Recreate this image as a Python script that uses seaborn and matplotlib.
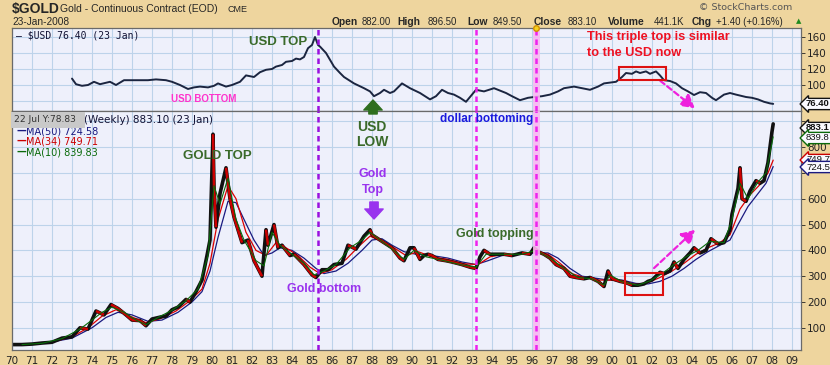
import matplotlib
matplotlib.use("Agg")
import matplotlib.pyplot as plt
import seaborn as sns
import pandas as pd

# ---------------- data ----------------
gold_t = [1970.0, 1970.5, 1971.0, 1971.5, 1972.0, 1972.5, 1973.0, 1973.4, 1973.8, 1974.2,
          1974.6, 1974.95, 1975.3, 1975.7, 1976.0, 1976.4, 1976.7, 1977.0, 1977.5, 1977.7,
          1978.0, 1978.3, 1978.7, 1978.9, 1979.2, 1979.5, 1979.75, 1979.9, 1980.05, 1980.1,
          1980.2, 1980.4, 1980.7, 1980.9, 1981.1, 1981.3, 1981.5, 1981.8, 1982.1, 1982.5,
          1982.7, 1982.8, 1983.1, 1983.3, 1983.5, 1983.9, 1984.1, 1984.6, 1985.0, 1985.2,
          1985.5, 1985.8, 1986.1, 1986.5, 1986.8, 1987.2, 1987.6, 1987.9, 1988.0, 1988.4,
          1988.8, 1989.0, 1989.4, 1989.6, 1989.9, 1990.1, 1990.4, 1990.6, 1990.8, 1991.0,
          1991.3, 1991.7, 1992.0, 1992.5, 1992.9, 1993.2, 1993.4, 1993.6, 1993.9, 1994.2,
          1994.6, 1995.0, 1995.5, 1995.9, 1996.1, 1996.3, 1996.6, 1996.9, 1997.2, 1997.6,
          1997.9, 1998.2, 1998.6, 1998.9, 1999.3, 1999.6, 1999.8, 2000.0, 2000.4, 2000.7,
          2001.0, 2001.3, 2001.6, 2001.8, 2002.0, 2002.4, 2002.6, 2002.9, 2003.1, 2003.3,
          2003.6, 2003.9, 2004.1, 2004.4, 2004.7, 2004.95, 2005.3, 2005.6, 2005.9, 2006.0,
          2006.3, 2006.4, 2006.5, 2006.7, 2006.9, 2007.2, 2007.4, 2007.6, 2007.8, 2007.9,
          2008.0, 2008.06]
gold_v = [35, 35, 37, 41, 44, 60, 65, 100, 95, 165,
          150, 190, 175, 150, 130, 128, 108, 134, 143, 145,
          170, 180, 210, 200, 240, 285, 380, 440, 850, 650,
          490, 620, 720, 600, 530, 480, 430, 440, 360, 300,
          480, 420, 500, 410, 420, 380, 385, 345, 305, 295,
          325, 325, 345, 350, 420, 405, 455, 480, 460, 440,
          420, 410, 370, 360, 410, 410, 365, 380, 385, 380,
          365, 360, 355, 345, 335, 330, 375, 400, 385, 385,
          385, 380, 390, 385, 410, 395, 385, 370, 345, 330,
          300, 295, 290, 295, 280, 260, 320, 290, 280, 275,
          265, 265, 270, 280, 285, 315, 310, 320, 355, 330,
          365, 390, 410, 390, 400, 445, 425, 430, 480, 540,
          640, 720, 600, 590, 630, 670, 660, 670, 740, 800,
          860, 890]

ma50_t = [1970.5, 1971, 1972, 1973, 1974, 1974.7, 1975.3, 1976, 1976.8, 1977.5, 1978.3, 1979,
          1979.5, 1979.9, 1980.3, 1980.8, 1981.2, 1981.6, 1982.1, 1982.6, 1983.0, 1983.4,
          1984.0, 1984.6, 1985.2, 1985.6, 1986.2, 1986.8, 1987.5, 1988.0, 1988.5, 1989.0,
          1989.6, 1990.2, 1991.0, 1991.8, 1992.5, 1993.2, 1993.8, 1994.5, 1995.3, 1996.2,
          1996.8, 1997.3, 1997.9, 1998.5, 1999.2, 1999.8, 2000.5, 2001.2, 2001.8, 2002.4,
          2003.0, 2003.6, 2004.2, 2004.8, 2005.4, 2005.9, 2006.3, 2006.8, 2007.3, 2007.7, 2008.06]
ma50_v = [35, 38, 45, 60, 100, 140, 160, 150, 125, 130, 160, 200,
          240, 320, 450, 590, 585, 520, 440, 380, 390, 410,
          400, 370, 330, 310, 320, 350, 400, 440, 445, 420,
          395, 385, 380, 370, 355, 345, 360, 380, 385, 390,
          390, 370, 330, 300, 292, 285, 285, 272, 270, 280,
          300, 330, 365, 395, 420, 440, 500, 570, 620, 660, 724.58]

ma34_t = [1970.5, 1971, 1972, 1973, 1973.8, 1974.5, 1975.2, 1975.9, 1976.7, 1977.4, 1978.2, 1978.9,
          1979.5, 1979.9, 1980.3, 1980.8, 1981.2, 1981.7, 1982.2, 1982.7, 1983.2, 1983.7,
          1984.3, 1984.9, 1985.4, 1986.0, 1986.7, 1987.4, 1987.9, 1988.5, 1989.1, 1989.7,
          1990.3, 1991.0, 1991.8, 1992.6, 1993.3, 1993.9, 1994.6, 1995.5, 1996.2, 1996.8,
          1997.4, 1998.0, 1998.6, 1999.3, 1999.9, 2000.5, 2001.2, 2001.8, 2002.4, 2003.0,
          2003.6, 2004.2, 2004.8, 2005.4, 2005.9, 2006.4, 2006.9, 2007.4, 2007.8, 2008.06]
ma34_v = [35, 37, 45, 65, 100, 145, 170, 145, 120, 135, 165, 205,
          250, 350, 520, 650, 600, 470, 400, 380, 430, 410,
          380, 335, 310, 325, 365, 420, 455, 435, 410, 380,
          395, 375, 365, 348, 345, 375, 385, 385, 395, 385,
          350, 310, 295, 285, 285, 280, 268, 275, 295, 320,
          350, 385, 410, 430, 460, 560, 615, 655, 700, 749.71]

ma10_t = [1970.5, 1971.5, 1972.5, 1973.4, 1974.0, 1974.5, 1975.0, 1975.6, 1976.2, 1976.7, 1977.3,
          1978.0, 1978.7, 1979.3, 1979.8, 1980.1, 1980.4, 1980.8, 1981.2, 1981.6, 1982.2, 1982.6,
          1983.0, 1983.4, 1984.0, 1984.6, 1985.1, 1985.6, 1986.2, 1986.9, 1987.5, 1987.9, 1988.4,
          1989.0, 1989.6, 1990.1, 1990.7, 1991.5, 1992.4, 1993.2, 1993.7, 1994.5, 1995.5, 1996.2,
          1996.9, 1997.6, 1998.3, 1999.0, 1999.6, 1999.9, 2000.5, 2001.3, 2001.9, 2002.5, 2003.1,
          2003.8, 2004.3, 2004.9, 2005.6, 2006.0, 2006.4, 2006.8, 2007.3, 2007.7, 2008.06]
ma10_v = [35, 40, 58, 95, 130, 160, 180, 160, 130, 112, 140,
          168, 205, 250, 380, 650, 580, 680, 520, 440, 360, 340,
          470, 420, 385, 350, 305, 320, 345, 410, 440, 470, 440,
          405, 365, 400, 375, 362, 345, 335, 385, 385, 385, 400,
          370, 330, 295, 290, 265, 305, 278, 265, 282, 310, 345,
          380, 400, 435, 430, 520, 660, 600, 665, 700, 839.83]

usd_t = [1973.0, 1973.2, 1973.5, 1973.8, 1974.1, 1974.4, 1974.9, 1975.2, 1975.6, 1976.0,
         1976.4, 1976.8, 1977.2, 1977.7, 1978.0, 1978.4, 1978.8, 1979.1, 1979.4, 1979.8,
         1980.1, 1980.3, 1980.7, 1981.0, 1981.4, 1981.7, 1982.1, 1982.4, 1982.7, 1983.0,
         1983.2, 1983.5, 1983.7, 1984.0, 1984.2, 1984.4, 1984.6, 1984.8, 1985.0, 1985.15,
         1985.3, 1985.4, 1985.7, 1986.1, 1986.4, 1986.6, 1987.1, 1987.6, 1987.9, 1988.1,
         1988.4, 1988.6, 1988.9, 1989.1, 1989.5, 1989.9, 1990.4, 1990.9, 1991.2, 1991.5,
         1991.8, 1992.1, 1992.4, 1992.7, 1993.0, 1993.2, 1993.6, 1994.1, 1994.7, 1995.0,
         1995.4, 1995.8, 1996.1, 1996.5, 1996.9, 1997.3, 1997.6, 1998.1, 1998.5, 1998.9,
         1999.3, 1999.6, 2000.2, 2000.5, 2000.7, 2001.0, 2001.2, 2001.4, 2001.7, 2001.9,
         2002.2, 2002.4, 2002.6, 2002.9, 2003.2, 2003.5, 2003.8, 2004.1, 2004.4, 2004.7,
         2005.0, 2005.2, 2005.6, 2005.9, 2006.2, 2006.7, 2007.0, 2007.3, 2007.6, 2007.9, 2008.06]
usd_v = [108, 101, 99, 100, 104, 101, 104, 100, 106, 106,
         106, 106, 107, 106, 104, 100, 95, 97, 98, 97,
         99, 102, 98, 100, 104, 112, 110, 116, 119, 120,
         123, 125, 129, 130, 133, 132, 135, 146, 150, 160,
         150, 148, 140, 123, 115, 110, 102, 96, 92, 86,
         90, 94, 90, 92, 102, 96, 90, 82, 86, 94,
         90, 88, 84, 79, 88, 94, 92, 96, 90, 86,
         81, 84, 85, 86, 88, 92, 96, 98, 96, 94,
         98, 102, 104, 110, 115, 114, 117, 115, 117, 114,
         117, 112, 106, 105, 102, 96, 92, 87.5, 91, 90,
         84, 81, 88, 90, 88, 85, 84, 82, 79, 77, 76.4]

years = list(range(1970, 2010))
year_labels = [f"{y % 100:02d}" for y in years]
usd_ticks = [100, 120, 140, 160]
gold_ticks = [100, 200, 300, 400, 500, 600, 700, 800, 900]
gold_tick_labels = ["100", "200", "300", "400", "500", "600", "", "800", ""]
event_years = [1985.3, 1993.2, 1996.2]

# ---------------- styling ----------------
W, H = 830, 365
BG = "#EED59E"
PANEL = "#EEF0FB"
GRID = "#BDD3EA"
sns.set_style("white")
plt.rcParams["font.family"] = ["DejaVu Sans"]

fig = plt.figure(figsize=(W / 100, H / 100), dpi=100, facecolor=BG)


def fx(x):
    return x / W


def fy(y):
    return 1 - y / H


L, R = 12, 801
ax_u = fig.add_axes([fx(L), fy(111), (R - L) / W, (111 - 28) / H])
ax_g = fig.add_axes([fx(L), fy(350), (R - L) / W, (350 - 111) / H], sharex=ax_u)

for ax in (ax_u, ax_g):
    ax.set_facecolor(PANEL)
    ax.set_xticks(years)
    ax.grid(True, color=GRID, lw=0.8)
    ax.set_axisbelow(True)
    for s in ax.spines.values():
        s.set_color("#6a6a6a")
        s.set_linewidth(0.9)
    ax.yaxis.tick_right()
    ax.tick_params(axis="y", length=3, width=0.6, pad=1.5, labelsize=7.5,
                   colors="#222222", direction="out")

ax_u.set_xlim(1970.0, 2009.45)
ax_u.set_ylim(67.5, 171.25)
ax_g.set_ylim(14, 940)

ax_u.set_yticks([80] + usd_ticks)
ax_u.set_yticklabels([""] + [str(v) for v in usd_ticks])
ax_u.tick_params(axis="x", length=0, labelbottom=False)
ax_g.set_yticks(gold_ticks)
ax_g.set_yticklabels(gold_tick_labels)
ax_g.set_xticklabels(year_labels)
ax_g.tick_params(axis="x", length=3, width=0.6, pad=1.5, labelsize=7.5,
                 colors="#222222")

# ---------------- series ----------------
df_usd = pd.DataFrame({"t": usd_t, "v": usd_v})
sns.lineplot(data=df_usd, x="t", y="v", ax=ax_u, color="#1B2540", lw=1.4, sort=False)

df_gold = pd.DataFrame({"t": gold_t, "v": gold_v})
sns.lineplot(data=pd.DataFrame({"t": ma50_t, "v": ma50_v}), x="t", y="v", ax=ax_g,
             color="#1A1A80", lw=0.9, sort=False)
sns.lineplot(data=pd.DataFrame({"t": ma34_t, "v": ma34_v}), x="t", y="v", ax=ax_g,
             color="#DD0000", lw=0.9, sort=False)
sns.lineplot(data=df_gold, x="t", y="v", ax=ax_g, color="#111111", lw=2.6, sort=False)
for i in range(len(gold_t) - 1):
    if gold_v[i + 1] < gold_v[i]:
        ax_g.plot(gold_t[i:i + 2], gold_v[i:i + 2], color="#CC0000", lw=1.8,
                  solid_capstyle="butt")
sns.lineplot(data=pd.DataFrame({"t": ma10_t, "v": ma10_v}), x="t", y="v", ax=ax_g,
             color="#0A6A0A", lw=0.8, sort=False)
for ax in (ax_u, ax_g):
    ax.set_xlabel("")
    ax.set_ylabel("")

# ---------------- event lines ----------------
ev_col = ["#9A10E0", "#EE22EE", "#EE22EE"]
for ax in (ax_u, ax_g):
    ax.axvline(event_years[2], color="#F7B8F2", lw=5, alpha=0.9, zorder=3)
    for yr, c in zip(event_years, ev_col):
        ax.axvline(yr, color=c, lw=1.8, ls=(0, (2.2, 1.6)), zorder=4)
ax_u.plot([event_years[2]], [171.25], marker="o", ms=4, color="#F5D020",
          mec="#D09000", clip_on=False, zorder=6)

# ---------------- header ----------------
LS = ["Liberation Sans"]
fig.text(fx(12), fy(9), "$GOLD", fontsize=10, fontweight="bold", va="center", family=LS)
fig.text(fx(60), fy(9), "Gold - Continuous Contract (EOD)", fontsize=7.5, va="center",
         family=LS)
fig.text(fx(227), fy(9), "CME", fontsize=6.5, va="center", family=LS)
fig.text(fx(12), fy(22), "23-Jan-2008", fontsize=7.3, va="center", family=LS)
fig.text(fx(792), fy(7), "© StockCharts.com", fontsize=6.8, va="center", ha="right",
         color="#555555")
hdr = [(332, "Open", True), (362, "882.00", False), (397, "High", True),
       (428, "896.50", False), (467, "Low", True), (493, "849.50", False),
       (534, "Close", True), (568, "883.10", False), (608, "Volume", True),
       (654, "441.1K", False), (692, "Chg", True), (716, "+1.40 (+0.16%)", False)]
for x, s, b in hdr:
    fig.text(fx(x), fy(22), s, fontsize=7.4 if b else 6.9,
             fontweight="bold" if b else "normal", va="center", family=LS)
fig.text(fx(799), fy(21), "▲", fontsize=5, color="#1E8A1E", va="center", ha="center")

# panel titles / legends
fig.text(fx(16), fy(35), "— $USD 76.40 (23 Jan)", fontsize=7, va="center",
         color="#111133", family=["DejaVu Sans Mono"])
fig.text(fx(213), fy(120), "$GOLD (Weekly) 883.10 (23 Jan)", fontsize=7.5, va="center",
         ha="right", color="#111133", zorder=1)
fig.text(fx(14), fy(120), "22 Jul Y:78.83  ", fontsize=6.6, va="center", color="#333333",
         zorder=5, bbox=dict(boxstyle="square,pad=0.35", fc="#C9C9C9", ec="none"))
for y, s, c in [(131, "MA(50) 724.58", "#1A1A80"), (141, "MA(34) 749.71", "#CC0000"),
                (152, "MA(10) 839.83", "#0A6A0A")]:
    fig.text(fx(16), fy(y), "—", fontsize=7, va="center", color=c, fontweight="bold")
    fig.text(fx(26), fy(y), s, fontsize=7, va="center", color=c)

# right-edge value boxes
for y, s, c, b in [(104, "76.40", "#111111", True), (128, "883.1", "#111111", True),
                   (138, "839.8", "#0A6A0A", False), (160, "749.7", "#CC0000", False),
                   (167, "724.5", "#1A1A80", False)]:
    fig.text(fx(806), fy(y), s, fontsize=6.8, va="center", ha="left", family=LS,
             fontweight="bold" if b else "normal", color="#111111", zorder=6,
             bbox=dict(boxstyle="larrow,pad=0.12", fc="#FAFAFF", ec=c, lw=1.0))

# ---------------- annotations ----------------
AN = LS
DG = "#3A6A2A"
fig.text(fx(249), fy(42), "USD TOP", fontsize=9.5, fontweight="bold", color=DG,
         va="center", family=AN)
fig.text(fx(171), fy(99), "USD BOTTOM", fontsize=7, fontweight="bold", color="#FF33CC",
         va="center", family=AN)
fig.text(fx(372), fy(127), "USD", fontsize=10, fontweight="bold", color=DG,
         va="center", ha="center", family=AN)
fig.text(fx(372), fy(142), "LOW", fontsize=10, fontweight="bold", color=DG,
         va="center", ha="center", family=AN)
fig.text(fx(440), fy(119), "dollar bottoming", fontsize=8.5, fontweight="bold",
         color="#1A1ADD", va="center", family=AN)
fig.text(fx(587), fy(37), "This triple top is similar", fontsize=9.2, fontweight="bold",
         color="#EE1122", va="center", family=AN)
fig.text(fx(587), fy(53), "to the USD now", fontsize=9.2, fontweight="bold",
         color="#EE1122", va="center", family=AN)
fig.text(fx(183), fy(156), "GOLD TOP", fontsize=9.5, fontweight="bold", color=DG,
         va="center", family=AN)
fig.text(fx(373), fy(174), "Gold", fontsize=9, fontweight="bold", color="#9933EE",
         va="center", ha="center", family=AN)
fig.text(fx(373), fy(190), "Top", fontsize=9, fontweight="bold", color="#9933EE",
         va="center", ha="center", family=AN)
fig.text(fx(287), fy(289), "Gold bottom", fontsize=9, fontweight="bold", color="#9933EE",
         va="center", family=AN)
fig.text(fx(456), fy(234), "Gold topping", fontsize=9, fontweight="bold", color=DG,
         va="center", family=AN)


def fp(x, y):
    return (x, H - y)


fig.patches.append(plt.Rectangle(fp(619, 80), 47, 13, transform=None, fill=False,
                                 ec="#DD1111", lw=1.5, figure=fig))
fig.patches.append(plt.Rectangle(fp(625, 295), 38, 22, transform=None, fill=False,
                                 ec="#DD1111", lw=1.5, figure=fig))

# arrows
arr = dict(xycoords="figure pixels", textcoords="figure pixels", annotation_clip=False)
ax_g.annotate("", xy=fp(697, 110), xytext=fp(658, 79),
              arrowprops=dict(arrowstyle="-|>,head_length=0.8,head_width=0.45",
                              color="#EE22DD", lw=1.6, ls=(0, (2.5, 1.5))), **arr)
ax_g.annotate("", xy=fp(697, 228), xytext=fp(652, 270),
              arrowprops=dict(arrowstyle="-|>,head_length=0.8,head_width=0.45",
                              color="#EE22DD", lw=1.6, ls=(0, (2.5, 1.5))), **arr)
ax_g.annotate("", xy=fp(373, 100), xytext=fp(373, 114),
              arrowprops=dict(arrowstyle="simple,head_length=0.6,head_width=1.1,tail_width=0.5",
                              color="#2E6E1E", mutation_scale=12, shrinkA=0, shrinkB=0), **arr)
ax_g.annotate("", xy=fp(374, 219), xytext=fp(374, 202),
              arrowprops=dict(arrowstyle="simple,head_length=0.6,head_width=1.1,tail_width=0.5",
                              color="#9933EE", mutation_scale=12, shrinkA=0, shrinkB=0), **arr)

fig.savefig("out.png", dpi=100, facecolor=BG)
